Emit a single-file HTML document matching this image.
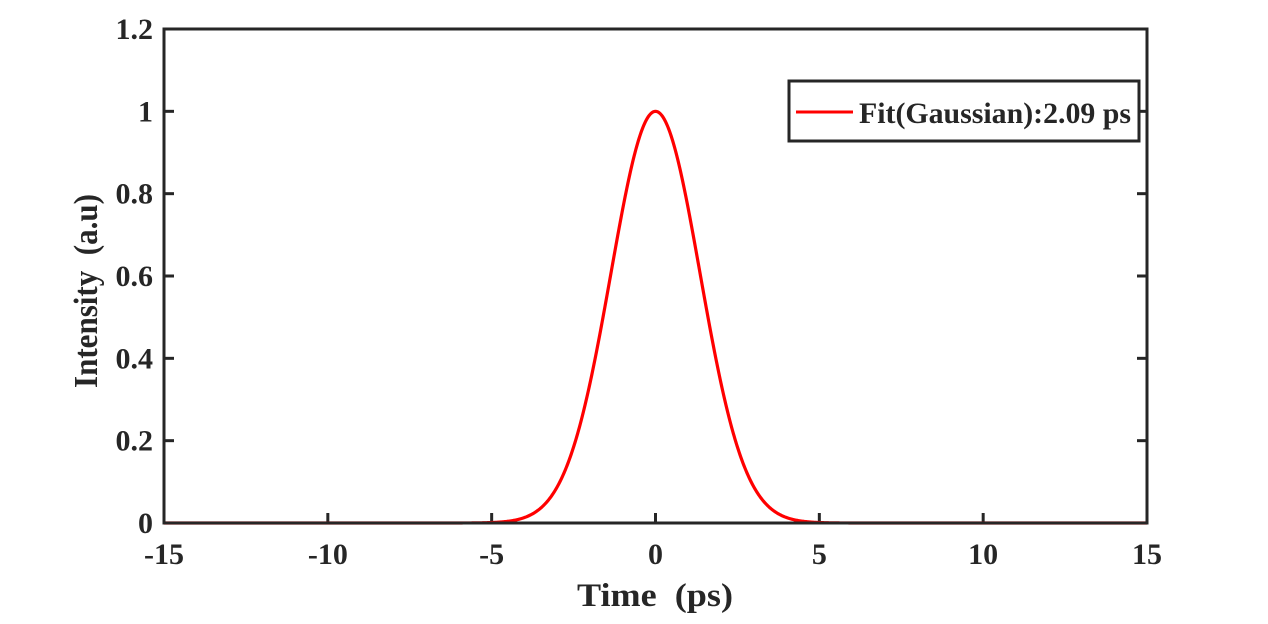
<!DOCTYPE html><html><head><style>body{margin:0;background:#fff}svg text{font-family:"Liberation Serif",serif;font-weight:bold;fill:#262626;white-space:pre}</style></head><body>
<svg id="s" width="1268" height="619" xmlns="http://www.w3.org/2000/svg">
<g id="ticks" stroke="#262626" stroke-width="3"></g>
<path id="curve" fill="none" stroke="#f00" stroke-width="3.2"/>
<rect x="164" y="29" width="983" height="494" fill="none" stroke="#262626" stroke-width="3"/>
<rect x="789" y="81" width="350" height="60" fill="#fff" stroke="#262626" stroke-width="3"/>
<line x1="796" y1="112" x2="853" y2="112" stroke="#f00" stroke-width="3"/>
<text x="859" y="123" font-size="30" textLength="272" lengthAdjust="spacingAndGlyphs">Fit(Gaussian):2.09 ps</text>
<g id="lab" font-size="30"></g>
<text x="577" y="606" font-size="33" textLength="156" lengthAdjust="spacingAndGlyphs">Time  (ps)</text>
<text transform="translate(97,388) rotate(-90)" font-size="34" textLength="194" lengthAdjust="spacingAndGlyphs">Intensity  (a.u)</text>
</svg>
<script>
var X=v=>164+(v+15)*983/30,Y=v=>523-v*494/1.2,t='',l='';
for(var v=-15;v<=15;v+=5){var x=X(v);t+=`<line x1="${x}" y1="523" x2="${x}" y2="513"/>`;l+=`<text x="${x}" y="564" text-anchor="middle">${v}</text>`;}
for(var i=0;i<=6;i++){var v=i*0.2,y=Y(v);t+=`<line x1="164" y1="${y}" x2="174" y2="${y}"/><line x1="1147" y1="${y}" x2="1137" y2="${y}"/>`;l+=`<text x="153" y="${y+10}" text-anchor="end">${i==0?0:i==5?1:v.toFixed(1)}</text>`;}
document.getElementById('ticks').innerHTML=t;document.getElementById('lab').innerHTML=l;
var s=1.36,d='';for(var k=0;k<=1200;k++){var v=-15+k*30/1200;d+=(k?'L':'M')+X(v).toFixed(2)+','+Y(Math.exp(-v*v/(2*s*s))).toFixed(2);}
document.getElementById('curve').setAttribute('d',d);
</script></body></html>
